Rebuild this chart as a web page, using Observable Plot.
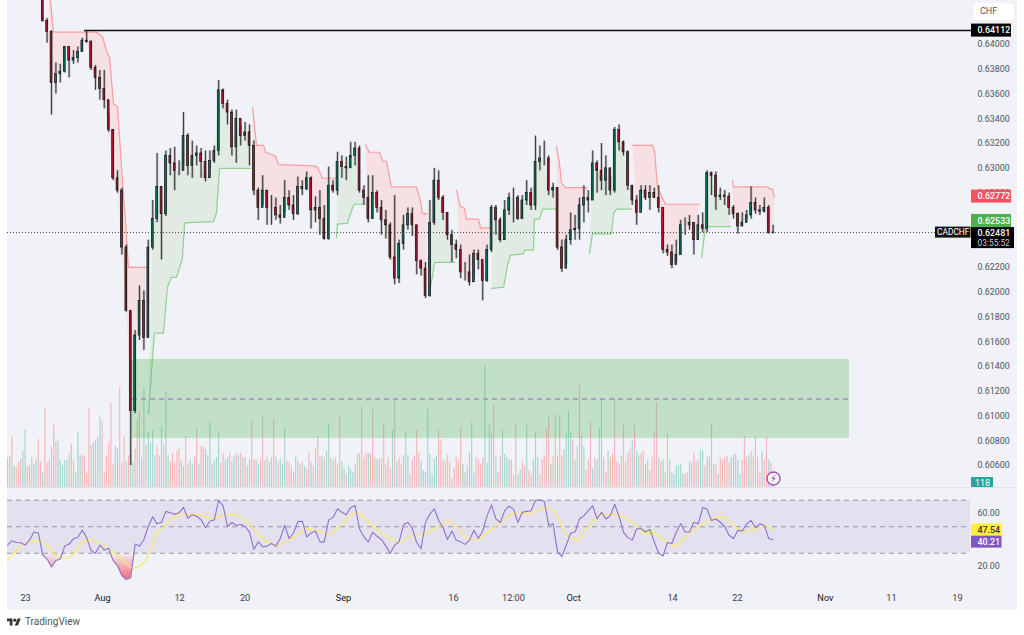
<!DOCTYPE html>
<html><head><meta charset="utf-8">
<script src="https://cdn.jsdelivr.net/npm/d3@7"></script>
<script src="https://cdn.jsdelivr.net/npm/@observablehq/plot@0.6"></script>
<style>
html,body{margin:0;padding:0;background:#fff;font-family:Roboto,sans-serif}
#stage{position:relative;width:1024px;height:635px;overflow:hidden;background:#fff}
#bg{position:absolute;left:7px;top:0;width:1010px;height:610px;background:#f0f2f7}
#sep{position:absolute;left:7px;top:487px;width:1010px;height:1px;background:#e0e3eb}
#stage>svg,#stage>div.p{position:absolute;left:0}
#chf{position:absolute;left:974px;top:3px;width:40px;height:17px;background:#fff;border-radius:3px;color:#50535e;font-size:9px;line-height:17px;padding-left:6px;box-sizing:border-box}
#tv{position:absolute;left:7px;top:616px;display:flex;align-items:center;color:#555;font-size:10px;line-height:12px}
#tv svg{margin-right:4px}
</style></head><body>
<div id="stage"><div id="bg"></div>
<div class="p" id="vol" style="top:0"></div>
<div class="p" id="main" style="top:0"></div>
<div class="p" id="rsi" style="top:488px"></div>
<div id="sep"></div>
<div id="chf">CHF</div>
<div id="tv"><svg width="14" height="11" viewBox="0 0 36 28"><path d="M14 22H7V11H0V4h14v18zM28 22h-8l7.5-18h8L28 22z" fill="#333"/><circle cx="20" cy="8" r="4" fill="#333"/></svg>TradingView</div>
</div>
<script>
// Candles, in pips (0.0001 CHF), one candle per two volume bars, first at bar 16.
const closes=[6419,6410,6369,6376,6378,6398,6387,6389,6394,6403,6402,6381,6373,6364,6355,6331,6292,6282,6236,6185,
6104,6165,6193,6163,6236,6259,6285,6263,6310,6304,6298,6298,6326,6302,6310,6312,6305,6292,6306,6314,
6363,6352,6345,6317,6340,6326,6329,6318,6282,6268,6282,6268,6268,6262,6260,6276,6270,6263,6285,6283,
6292,6266,6268,6259,6243,6286,6282,6305,6301,6300,6310,6316,6282,6276,6259,6280,6268,6258,6254,6228,
6211,6239,6254,6263,6254,6225,6219,6197,6256,6290,6276,6264,6246,6238,6234,6216,6216,6208,6231,6226,
6209,6234,6268,6258,6242,6266,6276,6276,6259,6274,6280,6270,6305,6308,6308,6282,6284,6236,6219,6242,
6250,6251,6270,6276,6274,6304,6298,6290,6300,6282,6331,6321,6313,6286,6274,6264,6282,6276,6280,6276,
6268,6234,6232,6222,6230,6254,6254,6256,6242,6254,6251,6296,6294,6277,6278,6277,6268,6263,6253,6256,
6262,6272,6266,6265,6268,6248,6248.1];
const highs=[6452,6421,6411,6385,6384,6398,6397,6395,6398,6405,6411.2,6403,6383,6379,6379,6344,6331,6298,6284,6238,
6184,6169,6205,6201,6242,6274,6312,6285,6314,6316,6317,6306,6345,6328,6322,6318,6316,6314,6314,6318,
6371,6364,6355,6347,6347,6335,6337,6335,6322,6284,6294,6282,6278,6276,6270,6290,6282,6278,6293,6290,
6297,6293,6277,6282,6270,6301,6290,6313,6310,6309,6321,6321,6318,6286,6294,6294,6282,6274,6266,6256,
6278,6242,6262,6268,6268,6254,6226,6224,6274,6300,6298,6278,6264,6250,6242,6238,6224,6230,6234,6234,
6222,6238,6270,6270,6260,6274,6280,6284,6278,6278,6290,6284,6326,6318,6322,6310,6288,6284,6242,6246,
6264,6262,6276,6286,6282,6314,6306,6320,6310,6294,6333,6335,6322,6314,6286,6278,6286,6286,6286,6284,
6286,6268,6238,6238,6242,6258,6260,6262,6256,6262,6264,6298,6297,6297,6284,6282,6280,6270,6264,6264,
6266,6285,6276,6270,6276,6270,6254];
const lows=[6418,6401,6343,6360,6369,6377,6373,6384,6385,6394,6401,6379,6363,6355,6348,6329,6290,6280,6230,6184,
6060,6102,6161,6153,6163,6234,6256,6226,6261,6294,6282,6294,6302,6294,6292,6302,6292,6289,6300,6304,
6310,6348,6335,6310,6304,6318,6322,6302,6278,6258,6270,6254,6254,6258,6255,6264,6266,6258,6262,6278,
6282,6251,6256,6246,6242,6242,6280,6278,6292,6290,6308,6302,6280,6270,6256,6259,6264,6246,6243,6226,
6206,6207,6234,6250,6245,6214,6213,6195,6196,6254,6274,6258,6242,6224,6227,6211,6209,6205,6211,6218,
6193,6208,6232,6246,6240,6242,6262,6256,6258,6259,6270,6266,6266,6298,6302,6278,6276,6234,6216,6222,
6238,6242,6242,6256,6264,6274,6280,6282,6278,6278,6280,6314,6310,6282,6270,6254,6266,6274,6266,6276,
6264,6231,6229,6219,6224,6230,6246,6250,6230,6250,6248,6248,6278,6266,6274,6270,6262,6259,6247,6253,
6259,6259,6263,6262,6264,6247,6247];
const candleFirstBar=16, candleStep=2;

// Volume, in hundreds of ticks: positive = up bar, negative = down bar.
const volumes=[-7,7.4,-11.8,5,-4.7,-6,-6.8,8.6,13.5,-4.9,
-5.3,-7,5.5,6.6,-11.3,-6,3.5,-18.7,-5.7,-6.5,
-9.5,-14.6,-10.8,11,6.3,5.2,6.3,6.5,-7.9,10.2,
-6.5,3.4,13,7.5,-7.8,-7.3,-3.3,-18.7,-9.8,10.5,
11,11.8,16.5,-15.7,-3.7,-7.5,-10.5,-20,-5.5,9.7,
9.2,-23.6,-5.6,-12,6,-7.5,8.8,5.9,-9,-16,
-18,-7,23,-10,13,10.5,13.5,7.5,-9.6,-7.5,
14.5,-9.9,22.6,7.5,-6,-8,-6,-8.5,-9.2,6.3,
-5,-12,-5.6,6.5,5.5,-7,-14,5.5,-9.6,-9.6,
9,7.5,15.3,-5.5,6.3,7,13.3,-5.6,-8,6.5,
7,-8,6,7.3,-8,7.5,-8,7,-7,-5,
6.5,-15.7,-6.5,6.5,5.5,-6.6,-17,6.3,-7,6,
7,-16,7.3,-6,6.5,5.5,14,-6,-5.8,-5,
-3.5,7.2,-6.2,5.5,-6,5,-4.5,-8,6,-5,
-9,-12,-7.3,7.3,-7,8.5,15,-7,6.3,-7,
-5.5,-17,6,4.5,-3,5,4.2,3.5,5.5,-7.8,
-8,-19,-7,-8,8,-8,-18.4,-7,6.6,-6.8,
-6.8,-15,-5.5,-7,-4.5,13.5,-20.5,6,-7,-5.6,
7.5,13.3,7.6,-3,-6.5,-7.5,-13.5,-8.2,6.2,4,
3.6,18.5,7.8,3,6.8,7.5,-13.5,-11.2,-6.3,-6.2,
-7.6,-6,-2,-4.5,-7,-6.2,-14.2,5.4,3.5,-5,
8.2,15.3,3.3,-7,-6.5,-5.5,-7,28.7,5.8,14.7,
12.5,-19.2,7,-3.5,-7.5,13.7,7.8,7,6.5,-6.5,
-3,-15.1,3,4,-6,-5,14.7,-4,-3,6.5,
12.9,7,-3,-6.5,-7.5,-13.5,-17,5.5,-7.2,-17,
7.5,-17,-7.5,8.8,12.6,18,13,-11.2,6.3,9.6,
-24,12,9.6,-4,-6.5,-15.4,4.5,-7,6.4,14,
21,-7,-3.4,8.5,-7,-8,-20.8,-6,-5.5,-7.5,
-14.7,-6,-8,-9,11,-14.6,8.5,7.5,-8,-8.6,
5.5,-6.5,-4,-7,-13,-20,7,-6,6.5,-3.5,
-12.6,6.5,3.5,3,5,5,5.4,3.2,-3.2,-3.4,
6,-5.7,-8,6,-6.4,8.8,8.5,-5,7,-7.3,
15,-5.5,-5.5,3,-7,-6.4,-7,-7.5,-5.8,7,
7.6,7.8,6.5,3,-6.5,-12,-7,7.5,-8.5,-7.5,
11.8,-7,-3.5,8.5,-6.5,-11.8,6.5,-5.8,1.18];

// Trend channel legs: [bar index, pips]
const trendLegs=[
{side:"down",pts:[[18.5,6452],[19.5,6436],[20.9,6410],[40.5,6410],[43.2,6406],[45,6395],[46.4,6389],[48.2,6352],[50,6350],[52.3,6288],[53.6,6258],[55,6220],[63.2,6220]]},
{side:"up",pts:[[64.1,6102],[65.9,6147],[66.8,6167],[70.9,6167],[72.7,6204],[74.5,6212],[76.8,6212],[79.5,6227],[80.5,6256],[93.6,6257],[95,6264],[96.4,6300],[110.5,6300]]},
{side:"down",pts:[[111.4,6349],[113.2,6318.5],[116.4,6318.5],[117.3,6313],[121.8,6310],[123.2,6303],[139.1,6302],[140.9,6301],[143.2,6292],[149.1,6292]]},
{side:"up",pts:[[149.5,6244],[150,6255],[154.5,6255.5],[156.8,6268],[157.7,6271],[161.8,6271]]},
{side:"down",pts:[[162.7,6319],[164.5,6313],[169.1,6313],[170.5,6306],[172.3,6305.5],[174.5,6285],[185.9,6285],[187.7,6274],[188.6,6263.5],[190.9,6263.5]]},
{side:"up",pts:[[191.8,6201],[193.2,6213],[194.1,6224],[203.2,6224]]},
{side:"down",pts:[[204.1,6282],[205.9,6269],[207.7,6268],[208.6,6259],[214.1,6259],[215,6252],[219.1,6252]]},
{side:"up",pts:[[220,6203],[225.5,6204],[227.3,6222],[228.6,6230],[234.5,6231],[235,6234],[239.1,6234],[239.5,6259],[241.8,6259],[243.2,6267],[249.1,6267]]},
{side:"down",pts:[[249.5,6318],[250.9,6304],[251.8,6288],[253.6,6284.5],[263.6,6284.5]]},
{side:"up",pts:[[264.5,6231],[265.9,6247],[274.5,6247],[275.5,6263.5],[276.8,6267],[283.6,6267]]},
{side:"down",pts:[[284.1,6318.5],[293.2,6318.5],[294.1,6314],[295.5,6284],[297.7,6276],[299.1,6271],[314.5,6271]]},
{side:"up",pts:[[315.5,6228],[317.3,6253],[328.6,6253]]},
{side:"down",pts:[[329.5,6290],[330,6285],[345.5,6285],[345.9,6284],[347.7,6283],[348.6,6277]]}
];

// RSI, one reading every two bars from bar 0
const rsiValues=[36.2,39.4,38.1,37.9,36.2,39.9,46,45.3,28.8,25.6,19.6,24.6,25.6,35.4,36.9,40.9,42.1,47.3,41.8,32,
30,36.2,32.5,33.7,24.6,20.6,13.2,10.2,11.5,36.9,35.4,40.4,50.2,57.6,52.2,53.4,61.6,60.6,59.4,60.6,
64.6,56.4,59.1,57.9,55.2,49.2,54.2,55.2,70,65.8,50.2,53.2,51,51.7,50.2,46,33,38.6,34.9,35.4,
37.4,35.4,41.1,51,41.1,45.3,53.9,54.2,42.3,45.3,46.8,38.6,38.6,55.2,56.9,63.6,60.9,59.1,64.6,66,
48.5,42.3,38.6,46,42.8,40.4,35.4,30,36.2,38.6,
51.5,53.4,48.5,38.1,33.4,53.4,59.6,63.6,54.7,49.2,40.4,46.8,39.9,38.6,36.7,39.9,47.3,41.1,46.8,58.4,
66.5,55.9,53.2,62.1,65.5,63.3,53.4,60.9,61.6,62.1,70,70.2,69,51.2,52.2,31.2,27.5,36.2,45.3,46,
55.9,58.4,62.1,65.8,55.9,60.9,55.9,58.4,67,57.6,46,41.8,39.9,48.5,48.5,46,48,38.6,30,28,
38.1,37.4,46,52.2,46,46,53.4,52.2,64.6,63.3,54.7,55.9,53.4,50.2,43.6,41.1,47.3,46.8,52.2,54.7,
49.2,52.2,51,41.1,40.21];
const rsiStep=2;
const rsiMaBars=[0,2.9,5.9,9.7,14.2,18,21.8,25.6,27.9,30.9,34,37,41.5,45.3,49.1,52.9,56.7,60.5,63.5,65.8,68,71,74.1,77.1,81.7,87.7,93.8,98.3,102.9,106.7,110.5,116.5,122.6,127.1,131.7,135.5,140.8,146,151.4,155.9,159.7,163.5,168,174.1,178.6,
181.6,184.7,189.2,193.8,198.3,201.3,204.4,208.9,214.2,218,222.5,227.1,230.1,236.2,241.5,244.5,249,252.8,255.9,259.7,263.4,268,274.1,279.4,284.7,290,293.8,297.5,303.6,308.9,315,319.5,325.6,330.1,334.7,339.2,344.5,348.3];
const rsiMaValues=[24.6,30,34.9,38.6,39.9,36.2,28.8,26.3,26.3,31.2,38.6,40.4,38.6,33.7,30,23.8,18.4,20.6,26.3,36.2,46,49.7,55.9,58.4,60.1,58.9,55.4,58.9,59.6,57.1,51,39.9,35.4,39.4,43.6,48.5,47.3,44,51,59.1,60.9,54.7,47.3,41.1,37.9,
41.1,44,44.3,47.8,52.7,54.2,49.7,41.1,40.4,46,51,57.1,60.9,59.6,62.1,65.3,61.6,47.3,41.1,39.9,48.5,58.4,59.6,58.4,52.2,45.5,46,41.1,34.9,43.6,51,55.9,57.6,51,46,47.8,51,47.54];

// Axis labels
const priceTicks=[0.640,0.638,0.636,0.634,0.632,0.630,0.628,0.622,0.620,0.618,0.616,0.614,0.612,0.610,0.608,0.606];
const rsiTicks=[60,20];
const rsiBands=[30,50,70];
const timeLabels=["23","Aug","12","20","Sep","16","12:00","Oct","14","22","Nov","11","19"];
const timeBars=[8.2,43.2,78.2,108,152.7,202.7,230,257.3,302.3,331.8,371.8,401.8,431.8];
const boldLabels=new Set(["Aug","Sep","Oct","Nov"]);
const resistance=0.64112, lastPrice=0.62481;
const demandZone={low:0.60819,high:0.61457,mid:0.61138};
const priceTags=[
 {label:"0.64112",at:0.64112,fill:"#000",color:"#fff"},
 {label:"0.62772",at:0.62772,fill:"#f7525f",color:"#fff"},
 {label:"0.62533",at:0.62575,fill:"#4caf50",color:"#fff"}];
const rsiTags=[{label:"47.54",at:47.54,fill:"#ffee3b",color:"#333"},{label:"40.21",at:38.4,fill:"#7e57c2",color:"#fff"}];

// Layout helper: horizontal pixel to bar index
const W=1024, H=488, barPx=2.2, b=px=>(px-7)/barPx;
const xDomain=[b(0),b(W)];
const font="Roboto";
const axisColor="#50535e";
const pricePx=1/12385; // one pixel in CHF

const candles=closes.map((c,i)=>({bar:candleFirstBar+candleStep*i,open:(i?closes[i-1]:6450)/1e4,close:c/1e4,high:highs[i]/1e4,low:lows[i]/1e4}));
const mainY={domain:[0.64355,0.60415],range:[0,H],axis:null};
const xS={domain:xDomain,range:[0,W],axis:null};

const legMarks=trendLegs.flatMap(l=>{
  const pts=l.pts.map(([bar,p])=>({bar,price:p/1e4}));
  const s=pts[0].bar,e=pts[pts.length-1].bar;
  const inside=candles.filter(c=>c.bar>=s&&c.bar<=e).reverse().map(c=>({bar:c.bar,price:c.close}));
  const poly=[...pts,...inside];
  const down=l.side==="down";
  return [
    Plot.line(poly,{x:"bar",y:"price",fill:down?"#f6e0e4":"#e1ebe4",stroke:"none"}),
    Plot.line(pts,{x:"bar",y:"price",stroke:down?"#fb9c9c":"#8fd18f",strokeWidth:1.2})
  ];
});

function tagMarks(tags,half,px1,px2,dx){
  return [
    Plot.rect(tags,{x1:()=>b(px1),x2:()=>b(px2),y1:d=>d.at-half,y2:d=>d.at+half,fill:"fill"}),
    Plot.text(tags,{x:()=>b(px1+dx),y:"at",text:"label",fill:"color",textAnchor:"start",fontSize:8.9,fontFamily:font,fontWeight:500})
  ];
}

const mainPlot=Plot.plot({width:W,height:H,margin:0,x:xS,y:mainY,style:{background:"transparent",overflow:"hidden"},
 marks:[
  ...legMarks,
  Plot.rect([demandZone],{x1:()=>b(131),x2:()=>b(849),y1:"low",y2:"high",fill:"#4caf50",fillOpacity:0.28}),
  Plot.ruleY([demandZone.mid],{x1:b(132),x2:b(849),stroke:"#a98bbd",strokeWidth:1.4,strokeDasharray:"5 4"}),
  Plot.ruleY([lastPrice],{x1:b(7),x2:b(935),stroke:"#444",strokeWidth:1,strokeDasharray:"1 2"}),
  Plot.ruleY([resistance],{x1:35,x2:b(972),stroke:"#111",strokeWidth:1.5}),
  Plot.ruleX(candles,{x:"bar",y1:"low",y2:"high",stroke:"#555",strokeOpacity:0.38,strokeWidth:2.4}),
  Plot.ruleX(candles,{x:"bar",y1:"low",y2:"high",stroke:"#222",strokeWidth:0.8}),
  Plot.rect(candles,{x1:d=>d.bar-0.4,x2:d=>d.bar+0.4,y1:"open",y2:"close",fill:d=>d.close>=d.open?"#0b7a68":"#b3172c",stroke:"#111",strokeWidth:0.7}),
  // right axis
  Plot.text(priceTicks,{y:d=>d,text:d=>d.toFixed(5),frameAnchor:"right",dx:-47,textAnchor:"start",fontSize:8.9,fontFamily:font,fill:axisColor}),
  ...tagMarks(priceTags,6.5*pricePx,971,1011,6),
  // last price block
  Plot.rect([lastPrice],{x1:()=>b(971),x2:()=>b(1014),y1:()=>lastPrice+5*pricePx,y2:()=>lastPrice-16*pricePx,fill:"#000"}),
  Plot.text(["0.62481"],{x:()=>b(977),y:()=>lastPrice-1*pricePx,text:d=>d,textAnchor:"start",fill:"#fff",fontSize:8.9,fontWeight:500,fontFamily:font}),
  Plot.text(["03:55:52"],{x:()=>b(977),y:()=>lastPrice-11*pricePx,text:d=>d,textAnchor:"start",fill:"#c9cbd1",fontSize:8.4,fontFamily:font}),
  Plot.rect(["CADCHF"],{x1:()=>b(935),x2:()=>b(970.5),y1:()=>lastPrice+5.5*pricePx,y2:()=>lastPrice-5.5*pricePx,fill:"#111"}),
  Plot.text(["CADCHF"],{x:()=>b(952.7),y:()=>lastPrice,text:d=>d,fill:"#fff",fontSize:8.4,fontFamily:font}),
  // volume last value tag and flash icon
  Plot.rect(["118"],{x1:()=>b(971),x2:()=>b(993),y1:()=>0.60415+11*pricePx,y2:()=>0.60415+0.5*pricePx,fill:"#26a69a"}),
  Plot.text(["118"],{x:()=>b(982),y:()=>0.60415+5.8*pricePx,text:d=>d,fill:"#fff",fontSize:8.9,fontFamily:font}),
  Plot.dot(["f"],{x:()=>348.2,y:()=>0.60496,r:6.5,fill:"#fff",stroke:"#ab47bc",strokeWidth:1.4}),
  Plot.text(["⚡"],{x:()=>348.2,y:()=>0.60496,text:d=>d,fill:"#9c27b0",fontSize:10,fontFamily:"DejaVu Sans"})
 ]});
document.getElementById("main").append(mainPlot);

const volRows=volumes.map((v,i)=>({bar:i,v:Math.abs(v),up:v>0}));
const volPlot=Plot.plot({width:W,height:H,margin:0,x:xS,y:{domain:[0,114.9],range:[487,0],axis:null},style:{background:"transparent"},
 marks:[
  Plot.ruleX(volRows,{x:"bar",y1:0,y2:"v",stroke:d=>d.up?"#a3d6ce":"#f5b6b8",strokeWidth:1.15})
 ]});
document.getElementById("vol").append(volPlot);

const rsiRows=rsiValues.map((v,i)=>({bar:i*rsiStep,rsi:v}));
const maRows=rsiMaBars.map((bar,i)=>({bar,ma:rsiMaValues[i]}));
const gradient=()=>{const d=d3.create("svg:defs");const g=d.append("linearGradient").attr("id","oversold").attr("x1",0).attr("x2",0).attr("y1",0).attr("y2",1);
 g.append("stop").attr("offset","0%").attr("stop-color","#f7525f").attr("stop-opacity",0.02);
 g.append("stop").attr("offset","100%").attr("stop-color","#f7525f").attr("stop-opacity",0.85);return d.node();};
const rsiPlot=Plot.plot({width:W,height:122,margin:0,x:xS,y:{domain:[-13.2,78.87],range:[122,0],axis:null},style:{background:"transparent",overflow:"hidden"},
 marks:[
  gradient,
  Plot.rect([0],{x1:()=>b(7),x2:()=>b(970),y1:()=>30,y2:()=>70,fill:"#7e57c2",fillOpacity:0.11}),
  Plot.ruleY(rsiBands,{x1:b(7),x2:b(970),stroke:"#9598a1",strokeWidth:1,strokeDasharray:"5 4"}),
  Plot.areaY(rsiRows,{x:"bar",y1:()=>30,y2:d=>Math.min(d.rsi,30),fill:"url(#oversold)"}),
  Plot.line(maRows,{x:"bar",y:"ma",stroke:"#fbe96a",strokeWidth:1.3}),
  Plot.line(rsiRows,{x:"bar",y:"rsi",stroke:"#8e6fd0",strokeWidth:1.1}),
  Plot.text(rsiTicks,{y:d=>d,text:d=>d.toFixed(2),frameAnchor:"right",dx:-47,textAnchor:"start",fontSize:8.9,fontFamily:font,fill:axisColor}),
  ...tagMarks(rsiTags,6/1.325,971,1001.5,6),
  Plot.text(timeLabels,{x:(d,i)=>timeBars[i],text:d=>d,frameAnchor:"bottom",dy:-10,fontSize:9.2,fontFamily:font,fill:d=>boldLabels.has(d)?"#131722":"#3a3d48",fontWeight:d=>boldLabels.has(d)?500:400})
 ]});
document.getElementById("rsi").append(rsiPlot);
</script>
</body></html>
